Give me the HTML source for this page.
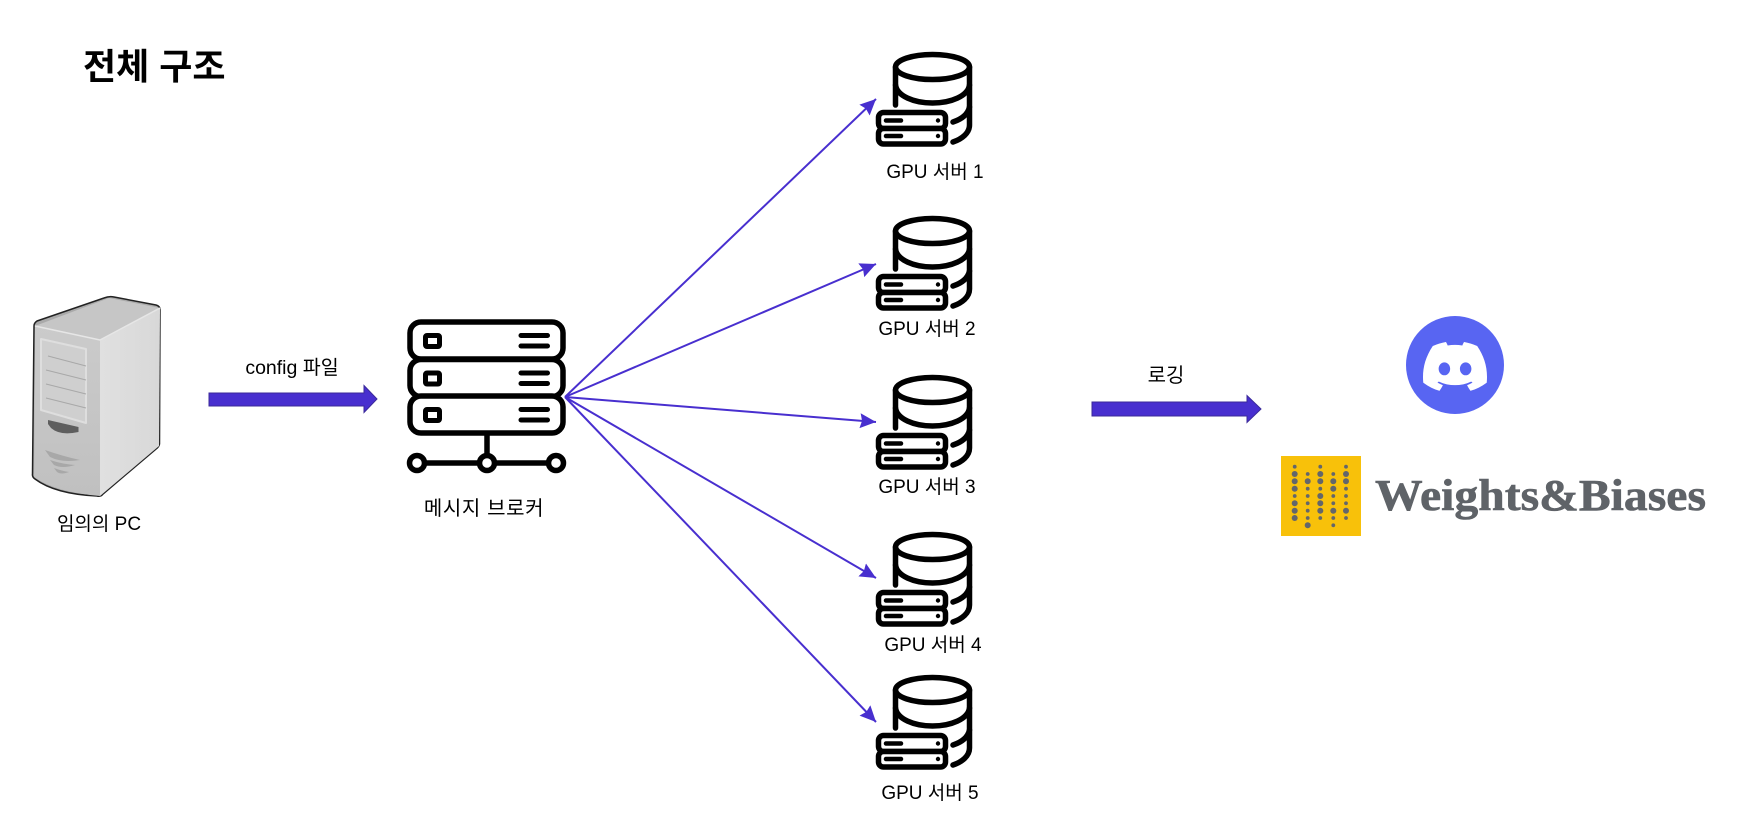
<!DOCTYPE html>
<html lang="ko"><head><meta charset="utf-8"><style>
html,body{margin:0;padding:0;background:#fff;width:1762px;height:820px;overflow:hidden}
svg{display:block}
text{font-family:"Liberation Sans","Noto Sans CJK KR",sans-serif;fill:#000}
.l{font-size:19px;text-anchor:middle}
</style></head><body>
<svg width="1762" height="820" viewBox="0 0 1762 820" xmlns="http://www.w3.org/2000/svg">
<defs>
<marker id="ah" markerUnits="userSpaceOnUse" markerWidth="18" markerHeight="16" refX="16" refY="7.500" orient="auto">
<path d="M0 0L16 7.500L0 15L2 7.500Z" fill="#482fcf"/></marker>
<linearGradient id="fr" x1="0" x2="0" y1="0" y2="1"><stop offset="0" stop-color="#cbcbcb"/><stop offset="1" stop-color="#c0c0c0"/></linearGradient>
<linearGradient id="sd" x1="0" x2="1" y1="0" y2="0"><stop offset="0" stop-color="#e0e0e0"/><stop offset="1" stop-color="#d8d8d8"/></linearGradient>
<g id="gpu" fill="none" stroke="#000" stroke-width="5.500" stroke-linecap="round">
<ellipse cx="932.500" cy="67" rx="37" ry="12.500" fill="#fff"/>
<path d="M895.500 67V105M969.500 67V125C969.500 133 962 139 953 142"/>
<path d="M895.500 85C897 96 914 103 932.500 103C951 103 968 96 969.500 85"/>
<path d="M953 122C962 119 968 114 969.500 107"/>
<rect x="878.500" y="112.500" width="67" height="16" rx="5" fill="#fff"/>
<rect x="878.500" y="128.500" width="67" height="15.500" rx="5" fill="#fff"/>
<path d="M886 120.500H901M886 136H901" stroke-width="4.500"/>
<circle cx="938" cy="120.500" r="2.200" fill="#000" stroke="none"/>
<circle cx="938" cy="136" r="2.200" fill="#000" stroke="none"/>
</g>
<g id="row">
<rect x="410" y="322" width="153" height="37" rx="11" fill="#fff" stroke="#000" stroke-width="5.500"/>
<rect x="425.500" y="335.500" width="14" height="11" rx="1.500" fill="#fff" stroke="#000" stroke-width="5"/>
<path d="M521 335.500H547.500M521 346H547.500" stroke="#000" stroke-width="5" stroke-linecap="round"/>
</g>
</defs>
<rect width="1762" height="820" fill="#fff"/>

<text x="83" y="79" style="font-size:36px;font-weight:700">전체 구조</text>

<!-- PC tower -->
<g stroke-linejoin="round">
<path d="M34 326Q34 323 37 321L104 298Q109 296 114 297L156 305Q160 306 160 310L159.500 444Q159 447 156 449L103 494Q101 497 97 496Q55 494 35 479Q32 477 32.500 474Z" fill="#aaa" stroke="#222" stroke-width="1.500"/>
<path d="M35 326L109 298L160 308L100 340Z" fill="#c6c6c6"/>
<path d="M100 340L160 308L159 446L100 496Z" fill="url(#sd)"/>
<path d="M35 326L100 340V496Q55 492 34 477Z" fill="url(#fr)"/>
<path d="M35 326L100 340L160 308" fill="none" stroke="#e6e6e6" stroke-width="1.500"/>
<path d="M41 339L86 349V423L41 410Z" fill="#cfcfcf" stroke="#dedede" stroke-width="2"/>
<path d="M48 356L86 366M46 370L86 380M46 384L86 394M46 398L86 408" stroke="#a8a8a8" stroke-width="1"/>
<path d="M48 420L78.500 427V432Q60 436 51 428L48 424Z" fill="#5e5e5e"/>
<path d="M45 450Q62 456 80 460Q62 463 50 457ZM50 460Q62 464 75 465Q62 469 54 465ZM54 468Q62 471 69 472Q61 475 57 472Z" fill="#a8a8a8"/>
</g>
<text class="l" x="99" y="530">임의의 PC</text>

<!-- arrow 1 -->
<path d="M209 393H364V385.500L377 399L364 412.500V406H209Z" fill="#482fcf" stroke="#3b2a9a" stroke-width="1"/>
<text class="l" x="292" y="374" style="font-size:19.500px">config 파일</text>

<!-- broker -->
<use href="#row"/>
<use href="#row" y="37.500"/>
<use href="#row" y="74"/>
<path d="M487 435V463M417 463H555" stroke="#000" stroke-width="5.500" fill="none"/>
<circle cx="417" cy="463" r="7.500" fill="#fff" stroke="#000" stroke-width="5.500"/>
<circle cx="487" cy="463" r="7.500" fill="#fff" stroke="#000" stroke-width="5.500"/>
<circle cx="556" cy="463" r="7.500" fill="#fff" stroke="#000" stroke-width="5.500"/>
<text class="l" x="484" y="515" style="font-size:20px;letter-spacing:.6px">메시지 브로커</text>

<!-- connectors -->
<g stroke="#482fcf" stroke-width="2" fill="none">
<line x1="565" y1="397" x2="876" y2="99" marker-end="url(#ah)"/>
<line x1="565" y1="397" x2="876" y2="264" marker-end="url(#ah)"/>
<line x1="565" y1="397" x2="876" y2="422" marker-end="url(#ah)"/>
<line x1="565" y1="397" x2="876" y2="578" marker-end="url(#ah)"/>
<line x1="565" y1="397" x2="876" y2="722" marker-end="url(#ah)"/>
</g>

<!-- GPU servers -->
<use href="#gpu"/>
<use href="#gpu" y="164"/>
<use href="#gpu" y="323"/>
<use href="#gpu" y="480"/>
<use href="#gpu" y="623"/>
<text class="l" x="935" y="178">GPU 서버 1</text>
<text class="l" x="927" y="335">GPU 서버 2</text>
<text class="l" x="927" y="493">GPU 서버 3</text>
<text class="l" x="933" y="651">GPU 서버 4</text>
<text class="l" x="930" y="799">GPU 서버 5</text>

<!-- arrow 2 -->
<path d="M1092 402H1247V395.500L1261 409L1247 422.500V416H1092Z" fill="#482fcf" stroke="#3b2a9a" stroke-width="1"/>
<text class="l" x="1166" y="382" style="font-size:20px">로깅</text>

<!-- Discord -->
<circle cx="1455" cy="365" r="49" fill="#5865f2"/>
<g transform="translate(1423 334.400) scale(2.667)">
<path fill="#fff" d="M20.317 4.3698a19.7913 19.7913 0 00-4.8851-1.5152.0741.0741 0 00-.0785.0371c-.211.3753-.4447.8648-.6083 1.2495-1.8447-.2762-3.68-.2762-5.4868 0-.1636-.3933-.4058-.8742-.6177-1.2495a.077.077 0 00-.0785-.037 19.7363 19.7363 0 00-4.8852 1.515.0699.0699 0 00-.0321.0277C.5334 9.0458-.319 13.5799.0992 18.0578a.0824.0824 0 00.0312.0561c2.0528 1.5076 4.0413 2.4228 5.9929 3.0294a.0777.0777 0 00.0842-.0276c.4616-.6304.8731-1.2952 1.226-1.9942a.076.076 0 00-.0416-.1057c-.6528-.2476-1.2743-.5495-1.8722-.8923a.077.077 0 01-.0076-.1277c.1258-.0943.2517-.1923.3718-.2914a.0743.0743 0 01.0776-.0105c3.9278 1.7933 8.18 1.7933 12.0614 0a.0739.0739 0 01.0785.0095c.1202.099.246.1981.3728.2924a.077.077 0 01-.0066.1276 12.2986 12.2986 0 01-1.873.8914.0766.0766 0 00-.0407.1067c.3604.698.7719 1.3628 1.225 1.9932a.076.076 0 00.0842.0286c1.961-.6067 3.9495-1.5219 6.0023-3.0294a.077.077 0 00.0313-.0552c.5004-5.177-.8382-9.6739-3.5485-13.6604a.061.061 0 00-.0312-.0286zM8.02 15.3312c-1.1825 0-2.1569-1.0857-2.1569-2.419 0-1.3332.9555-2.4189 2.157-2.4189 1.2108 0 2.1757 1.0952 2.1568 2.419 0 1.3332-.9555 2.4189-2.1569 2.4189zm7.9748 0c-1.1825 0-2.1569-1.0857-2.1569-2.419 0-1.3332.9554-2.4189 2.1569-2.4189 1.2108 0 2.1757 1.0952 2.1568 2.419 0 1.3332-.946 2.4189-2.1568 2.4189Z"/>
</g>

<!-- W&B -->
<rect x="1281" y="456" width="80" height="80" fill="#f8c10a"/>
<g fill="#63666b">
<circle cx="1294.700" cy="466.700" r="1.900"/><circle cx="1294.700" cy="474" r="3"/><circle cx="1294.700" cy="481.300" r="3"/><circle cx="1294.700" cy="488.700" r="3"/><circle cx="1294.700" cy="496" r="1.900"/><circle cx="1294.700" cy="503.300" r="3"/><circle cx="1294.700" cy="510.700" r="3"/><circle cx="1294.700" cy="518" r="3"/>
<circle cx="1307.700" cy="474" r="1.900"/><circle cx="1307.700" cy="481.300" r="3"/><circle cx="1307.700" cy="488.700" r="1.900"/><circle cx="1307.700" cy="496" r="1.900"/><circle cx="1307.700" cy="503.300" r="1.900"/><circle cx="1307.700" cy="510.700" r="1.900"/><circle cx="1307.700" cy="518" r="1.900"/><circle cx="1307.700" cy="525.300" r="3"/>
<circle cx="1320.300" cy="466.700" r="1.900"/><circle cx="1320.300" cy="474" r="3"/><circle cx="1320.300" cy="481.300" r="3"/><circle cx="1320.300" cy="488.700" r="1.900"/><circle cx="1320.300" cy="496" r="3"/><circle cx="1320.300" cy="503.300" r="3"/><circle cx="1320.300" cy="510.700" r="3"/><circle cx="1320.300" cy="518" r="1.900"/>
<circle cx="1333.300" cy="474" r="1.900"/><circle cx="1333.300" cy="481.300" r="3"/><circle cx="1333.300" cy="488.700" r="3"/><circle cx="1333.300" cy="496" r="1.900"/><circle cx="1333.300" cy="503.300" r="1.900"/><circle cx="1333.300" cy="510.700" r="3"/><circle cx="1333.300" cy="518" r="1.900"/><circle cx="1333.300" cy="525.300" r="1.900"/>
<circle cx="1346" cy="466.700" r="1.900"/><circle cx="1346" cy="474" r="3"/><circle cx="1346" cy="481.300" r="3"/><circle cx="1346" cy="488.700" r="1.900"/><circle cx="1346" cy="496" r="1.900"/><circle cx="1346" cy="503.300" r="1.900"/><circle cx="1346" cy="510.700" r="3"/><circle cx="1346" cy="518" r="1.900"/>
</g>
<text x="1375" y="510" textLength="331" lengthAdjust="spacingAndGlyphs" style="font-family:'Liberation Serif',serif;font-weight:700;font-size:44px;fill:#5f6368;stroke:#5f6368;stroke-width:.6">Weights&amp;Biases</text>
</svg>
</body></html>
